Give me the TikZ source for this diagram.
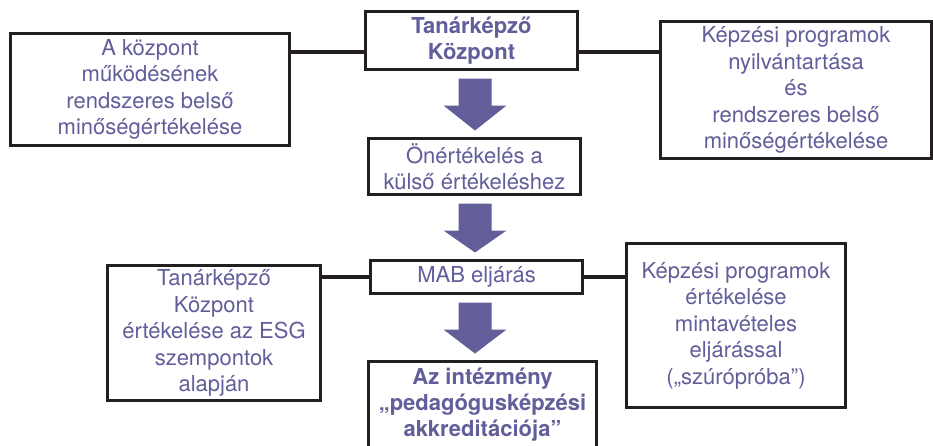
\documentclass[tikz,border=0pt]{standalone}
\usepackage{fontspec}
\setmainfont{TeX Gyre Heros}
\usepackage{tikz}
\usetikzlibrary{calc}
\definecolor{mabblue}{RGB}{97,94,154}
\definecolor{boxline}{RGB}{35,31,32}

\begin{document}
\begin{tikzpicture}[x=1pt,y=-1pt,
    box/.style={draw=boxline,line width=3pt,fill=white,align=center,inner sep=0pt,
        text=mabblue,font=\fontsize{22}{26.5}\selectfont},
    boldbox/.style={box,font=\bfseries\fontsize{22}{26}\selectfont},
    link/.style={draw=boxline,line width=3.5pt},
    flowfill/.style={fill=mabblue}]
    \useasboundingbox (0,0) rectangle (933,445);
    % middle column
    \node [boldbox,minimum width=212pt,minimum height=58pt] (tk) at (471.5,40.5) {Tanárképző\\Központ};
    \node [box,minimum width=212pt,minimum height=56pt] (onert) at (474.5,166.5) {Önértékelés a\\külső értékeléshez};
    \node [box,minimum width=212pt,minimum height=33pt] (mab) at (476.5,277) {MAB eljárás};
    \node [boldbox,minimum width=228pt,minimum height=87pt] (akkr) at (482.5,405) {Az intézmény\\„pedagógusképzési\\akkreditációja”};
    % side boxes
    \node [box,minimum width=279pt,minimum height=112pt] (belso) at (150,89.5) {A központ\\működésének\\rendszeres belső\\minőségértékelése};
    \node [box,minimum width=271pt,minimum height=137pt] (nyilv) at (796,90) {Képzési programok\\nyilvántartása\\és\\rendszeres belső\\minőségértékelése};
    \node [box,minimum width=213pt,minimum height=135pt] (esg) at (214,333) {Tanárképző\\Központ\\értékelése az ESG\\szempontok\\alapján};
    \node [box,minimum width=219pt,minimum height=164pt] (minta) at (736,325.5) {Képzési programok\\értékelése\\mintavételes\\eljárással\\(„szúrópróba”)};
    % links
    \coordinate (axis) at (475,0);
    \coordinate (toplink) at (0,52);
    \draw [link] (toplink -| belso.east) -- (toplink -| tk.west);
    \draw [link] (toplink -| tk.east) -- (toplink -| nyilv.west);
    \draw [link] (mab.west) -- (mab.west -| esg.east);
    \draw [link] (mab.east) -- (mab.east -| minta.west);
    % block arrows
    \foreach \a/\b in {tk/onert, onert/mab, mab/akkr}
        \fill [flowfill] ($(\a.south -| axis)+(-16.5,7.5)$) -- ++(33,0) -- ++(0,27) -- ++(15,0)
            -- ($(\b.north -| axis)+(0,-6.5)$) -- ($(\a.south -| axis)+(-31.5,34.5)$) -- ++(15,0) -- cycle;
\end{tikzpicture}
\end{document}
